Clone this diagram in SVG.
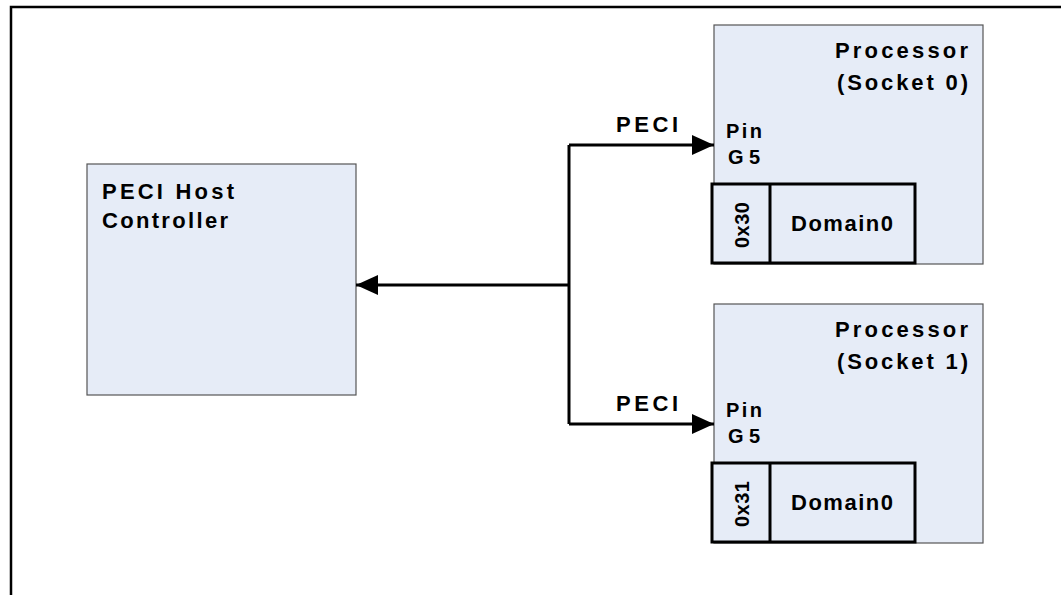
<svg xmlns="http://www.w3.org/2000/svg" width="1061" height="595" viewBox="0 0 1061 595">
  <style>
    .frame { fill: none; stroke: #000; stroke-width: 2.5; }
    .box { fill: #E6ECF7; stroke: #555; stroke-width: 1.2; }
    .inner { fill: #E6ECF7; stroke: #000; stroke-width: 3; }
    .lbl { font-family: "Liberation Sans", Arial, sans-serif; font-weight: bold; font-size: 22px; fill: #000; }
    .pin { font-size: 20px; }
    .addr { font-size: 20px; }
    .wire { fill: none; stroke: #000; stroke-width: 3; }
  </style>
  <defs>
    <marker id="arrow" viewBox="0 0 22 20" refX="22" refY="10" markerWidth="22" markerHeight="20" markerUnits="userSpaceOnUse" orient="auto">
      <path d="M0,0 L22,10 L0,20 Z" fill="#000"/>
    </marker>
  </defs>

  <rect width="1061" height="595" fill="#fff"/>
  <!-- page frame, open to the right and bottom -->
  <path class="frame" d="M11,596 V7 H1062"/>

  <!-- host controller -->
  <g id="host">
    <rect class="box" x="87" y="164" width="269" height="231"/>
    <text class="lbl" x="102" y="199" textLength="132" lengthAdjust="spacing">PECI Host</text>
    <text class="lbl" x="102" y="228" textLength="126" lengthAdjust="spacing">Controller</text>
  </g>

  <!-- processor, socket 0 -->
  <g id="proc0">
    <rect class="box" x="714" y="25" width="269" height="239"/>
    <text class="lbl" x="968" y="58" text-anchor="end" textLength="133" lengthAdjust="spacing">Processor</text>
    <text class="lbl" x="968" y="90" text-anchor="end" textLength="131" lengthAdjust="spacing">(Socket 0)</text>
    <text class="lbl pin" x="726" y="138" textLength="36" lengthAdjust="spacing">Pin</text>
    <text class="lbl pin" x="728" y="164" textLength="32" lengthAdjust="spacing">G5</text>
    <g id="proc0-domain">
      <rect class="inner" x="712" y="184" width="203" height="79"/>
      <line x1="770" y1="184" x2="770" y2="263" stroke="#000" stroke-width="3"/>
      <text class="lbl" x="791" y="231" textLength="102" lengthAdjust="spacing">Domain0</text>
      <text class="lbl addr" transform="translate(749,225) rotate(-90)" text-anchor="middle" textLength="46" lengthAdjust="spacing">0x30</text>
    </g>
  </g>

  <!-- processor, socket 1 -->
  <g id="proc1">
    <rect class="box" x="714" y="304" width="269" height="239"/>
    <text class="lbl" x="968" y="337" text-anchor="end" textLength="133" lengthAdjust="spacing">Processor</text>
    <text class="lbl" x="968" y="369" text-anchor="end" textLength="131" lengthAdjust="spacing">(Socket 1)</text>
    <text class="lbl pin" x="726" y="417" textLength="36" lengthAdjust="spacing">Pin</text>
    <text class="lbl pin" x="728" y="443" textLength="32" lengthAdjust="spacing">G5</text>
    <g id="proc1-domain">
      <rect class="inner" x="712" y="463" width="203" height="79"/>
      <line x1="770" y1="463" x2="770" y2="542" stroke="#000" stroke-width="3"/>
      <text class="lbl" x="791" y="510" textLength="102" lengthAdjust="spacing">Domain0</text>
      <text class="lbl addr" transform="translate(749,504) rotate(-90)" text-anchor="middle" textLength="46" lengthAdjust="spacing">0x31</text>
    </g>
  </g>

  <!-- PECI bus -->
  <g id="connectors">
    <path class="wire" d="M569,145 V424"/>
    <path class="wire" d="M569,145 H714" marker-end="url(#arrow)"/>
    <path class="wire" d="M569,424 H714" marker-end="url(#arrow)"/>
    <path class="wire" d="M569,285 H356" marker-end="url(#arrow)"/>
    <text class="lbl" x="616" y="132" textLength="62" lengthAdjust="spacing">PECI</text>
    <text class="lbl" x="616" y="411" textLength="62" lengthAdjust="spacing">PECI</text>
  </g>
</svg>
